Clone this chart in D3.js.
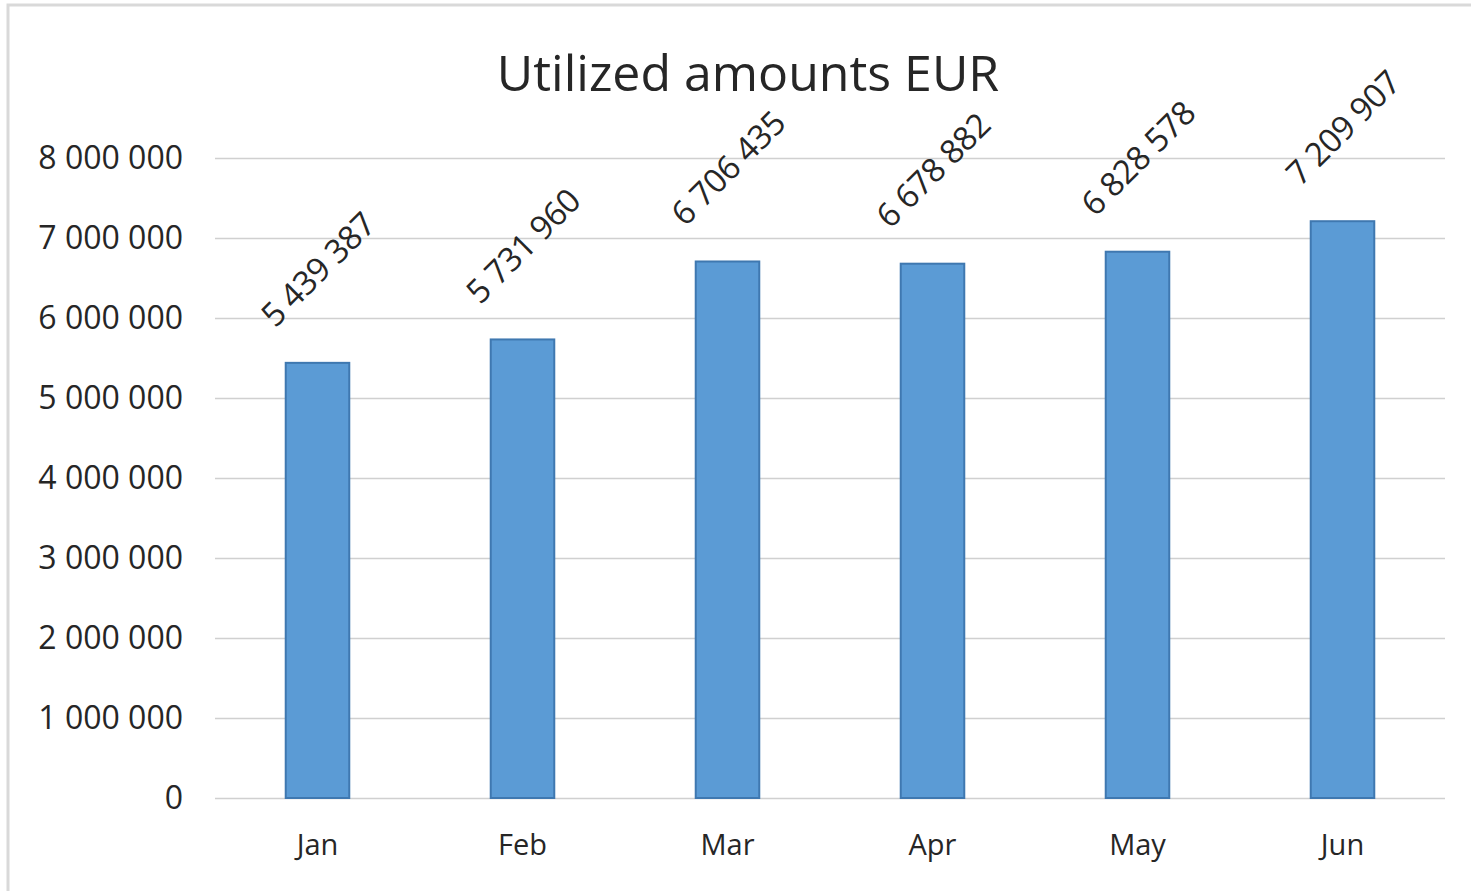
<!DOCTYPE html>
<html>
<head>
<meta charset="utf-8">
<script src="https://cdn.jsdelivr.net/npm/d3@7"></script>
<style>
  body { margin: 0; background: #fff; }
  svg { display: block; font-family: "Open Sans", sans-serif; }
</style>
</head>
<body>
<script>
// Chart data
const months = ["Jan", "Feb", "Mar", "Apr", "May", "Jun"];
const amounts = [5439387, 5731960, 6706435, 6678882, 6828578, 7209907];
const yTicks = [0, 1000000, 2000000, 3000000, 4000000, 5000000, 6000000, 7000000, 8000000];

const width = 1471;
const height = 891;
const margin = {top: 158, right: 26, bottom: 93, left: 215};

// space as thousands separator
const locale = d3.formatLocale({decimal: ",", thousands: " ", grouping: [3], currency: ["", " €"]});
const fmt = locale.format(",");

const svg = d3.select('body')
  .append('svg')
  .attr('width', width)
  .attr('height', height);

// outer frame of the chart area
svg.append('rect')
  .attr('x', 8).attr('y', 5)
  .attr('width', width).attr('height', height)
  .attr('fill', '#fff')
  .attr('stroke', '#d9d9d9')
  .attr('stroke-width', 3);

// Scales
const x = d3.scaleBand()
  .domain(months)
  .range([margin.left, width - margin.right])
  .paddingInner(0.69)
  .paddingOuter(0.345);

const y = d3.scaleLinear()
  .domain([0, 8000000])
  .range([height - margin.bottom, margin.top]);

// Gridlines + y labels
const yAxis = d3.axisLeft(y)
  .tickValues(yTicks)
  .tickSize(-(width - margin.right - margin.left))
  .tickPadding(32)
  .tickFormat(fmt);

svg.append('g')
  .attr('transform', `translate(${margin.left},0)`)
  .call(yAxis)
  .attr('font-family', null)
  .attr('font-size', null)
  .call(g => g.select('.domain').remove())
  .call(g => g.selectAll('.tick line').attr('stroke', '#d0d0d0').attr('stroke-width', 1.5))
  .call(g => g.selectAll('.tick text')
    .attr('fill', '#262626')
    .style('font-size', '32px')
    .attr('letter-spacing', '0px'));

// Bars
svg.append('g')
  .selectAll('rect')
  .data(amounts)
  .join('rect')
  .attr('x', (d, i) => x(months[i]))
  .attr('y', d => y(d))
  .attr('width', x.bandwidth())
  .attr('height', d => y(0) - y(d))
  .attr('fill', '#5b9bd5')
  .attr('stroke', '#3f78b0')
  .attr('stroke-width', 2);

// x labels
const xAxis = d3.axisBottom(x).tickSize(0).tickPadding(36);
svg.append('g')
  .attr('transform', `translate(0,${y(0)})`)
  .call(xAxis)
  .attr('font-family', null)
  .attr('font-size', null)
  .call(g => g.select('.domain').remove())
  .call(g => g.selectAll('.tick text')
    .attr('fill', '#262626')
    .style('font-size', '29px'));

// value labels rotated
svg.append('g')
  .selectAll('text')
  .data(amounts)
  .join('text')
  .attr('transform', (d, i) => `translate(${x(months[i]) + x.bandwidth() / 2},${y(d) - 94}) rotate(-45)`)
  .attr('text-anchor', 'middle')
  .attr('dominant-baseline', 'central')
  .attr('fill', '#262626')
  .attr('letter-spacing', '-0.5px')
  .style('font-size', '33px')
  .text(d => fmt(d));

// Title
svg.append('text')
  .attr('x', 748)
  .attr('y', 91)
  .attr('text-anchor', 'middle')
  .attr('fill', '#262626')
  .style('font-size', '50px')
  .text('Utilized amounts EUR');
</script>
</body>
</html>
